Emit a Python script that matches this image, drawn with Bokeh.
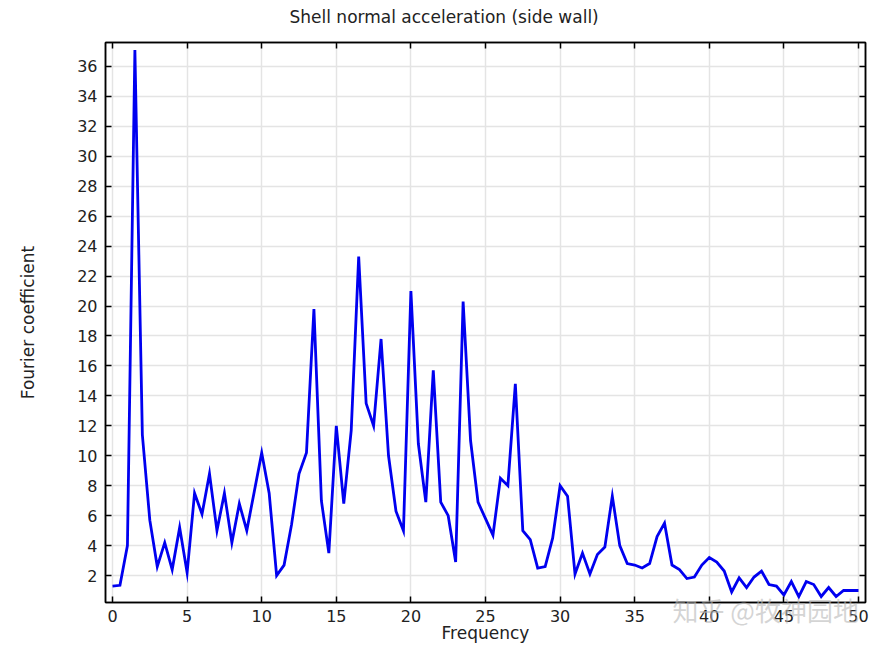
from bokeh.plotting import figure
from bokeh.models import LinearAxis, FixedTicker, Range1d, CustomJSTickFormatter, Title
from bokeh.embed import file_html
from bokeh.resources import INLINE

freq = [0.0, 0.5, 1.0, 1.5, 2.0, 2.5, 3.0, 3.5, 4.0, 4.5,
        5.0, 5.5, 6.0, 6.5, 7.0, 7.5, 8.0, 8.5, 9.0, 9.5,
        10.0, 10.5, 11.0, 11.5, 12.0, 12.5, 13.0, 13.5, 14.0, 14.5,
        15.0, 15.5, 16.0, 16.5, 17.0, 17.5, 18.0, 18.5, 19.0, 19.5,
        20.0, 20.5, 21.0, 21.5, 22.0, 22.5, 23.0, 23.5, 24.0, 24.5,
        25.0, 25.5, 26.0, 26.5, 27.0, 27.5, 28.0, 28.5, 29.0, 29.5,
        30.0, 30.5, 31.0, 31.5, 32.0, 32.5, 33.0, 33.5, 34.0, 34.5,
        35.0, 35.5, 36.0, 36.5, 37.0, 37.5, 38.0, 38.5, 39.0, 39.5,
        40.0, 40.5, 41.0, 41.5, 42.0, 42.5, 43.0, 43.5, 44.0, 44.5,
        45.0, 45.5, 46.0, 46.5, 47.0, 47.5, 48.0, 48.5, 49.0, 49.5,
        50.0]
coef = [1.3, 1.35, 4.0, 37.1, 11.4, 5.7, 2.6, 4.2, 2.4, 5.2,
        2.2, 7.5, 6.1, 8.8, 5.0, 7.5, 4.2, 6.8, 5.0, 7.6,
        10.2, 7.5, 2.0, 2.7, 5.4, 8.8, 10.2, 19.8, 7.0, 3.5,
        12.0, 6.8, 11.7, 23.3, 13.5, 12.0, 17.8, 10.0, 6.3, 5.0,
        21.0, 10.8, 6.9, 15.7, 6.9, 6.0, 2.9, 20.3, 11.0, 6.9,
        5.8, 4.7, 8.5, 8.0, 14.8, 5.0, 4.4, 2.5, 2.6, 4.5,
        8.0, 7.3, 2.1, 3.5, 2.1, 3.4, 3.9, 7.3, 4.0, 2.8,
        2.7, 2.5, 2.8, 4.6, 5.5, 2.7, 2.4, 1.8, 1.9, 2.7,
        3.2, 2.9, 2.3, 0.9, 1.85, 1.2, 1.9, 2.3, 1.4, 1.3,
        0.7, 1.6, 0.6, 1.6, 1.4, 0.6, 1.2, 0.6, 1.0, 1.0,
        1.0]
x_ticks = [0, 5, 10, 15, 20, 25, 30, 35, 40, 45, 50]
y_ticks = [2, 4, 6, 8, 10, 12, 14, 16, 18, 20, 22, 24, 26, 28, 30, 32, 34, 36]
watermark = "知乎 @牧神园地"

FONT = "DejaVu Sans"
TXT = "#222222"

p = figure(width=880, height=646, output_backend="svg", toolbar_location=None,
           x_range=Range1d(-0.47, 50.47), y_range=Range1d(0.2, 37.6),
           x_axis_label="Frequency", y_axis_label="Fourier coefficient",
           min_border_left=105, min_border_right=15, min_border_top=42, min_border_bottom=44)

p.title.text = "Shell normal acceleration (side wall)"
p.title.align = "left"
p.title.offset = 184
p.title.vertical_align = "top"
p.title.standoff = -72
p.title.text_font = FONT
p.title.text_font_size = "17px"
p.title.text_font_style = "normal"
p.title.text_color = TXT

p.outline_line_color = "black"
p.outline_line_width = 1.5
p.background_fill_color = "white"
p.border_fill_color = "white"

p.xgrid.ticker = FixedTicker(ticks=x_ticks)
p.ygrid.ticker = FixedTicker(ticks=y_ticks)
p.grid.grid_line_color = "#e4e4e4"
p.grid.grid_line_width = 1.5

def style_axis(ax, ticks, show_labels):
    ax.ticker = FixedTicker(ticks=ticks)
    ax.major_tick_in = 6
    ax.major_tick_out = 0
    ax.minor_tick_in = 0
    ax.minor_tick_out = 0
    ax.axis_line_color = "black"
    ax.axis_line_width = 1.5
    ax.major_tick_line_color = "black"
    ax.major_tick_line_width = 1.5
    ax.major_label_text_font = FONT
    ax.major_label_text_color = TXT
    ax.major_label_text_font_size = "16px"
    ax.axis_label_text_font = FONT
    ax.axis_label_text_font_style = "normal"
    ax.axis_label_text_color = TXT
    ax.axis_label_text_font_size = "17px"
    if show_labels:
        ax.major_label_standoff = 7
    else:
        ax.formatter = CustomJSTickFormatter(code="return ''")
        ax.major_label_standoff = 0

style_axis(p.xaxis[0], x_ticks, True)
style_axis(p.yaxis[0], y_ticks, True)
p.xaxis[0].axis_label_standoff = -2
p.yaxis[0].major_label_standoff = 8
p.yaxis[0].axis_label_standoff = 36

top = LinearAxis()
style_axis(top, x_ticks, False)
p.add_layout(top, "above")
right = LinearAxis()
style_axis(right, y_ticks, False)
p.add_layout(right, "right")

p.line(freq, coef, line_color="#0000f0", line_width=2.8, line_join="miter")

wm = Title(text=watermark, align="left", offset=567, standoff=-110,
           vertical_align="top",
           text_font="Noto Sans CJK SC", text_font_size="26px",
           text_font_style="normal", text_color="#b8b8b8", text_alpha=0.6)
p.add_layout(wm, "below")

open("out.html", "w").write(file_html(p, INLINE))
